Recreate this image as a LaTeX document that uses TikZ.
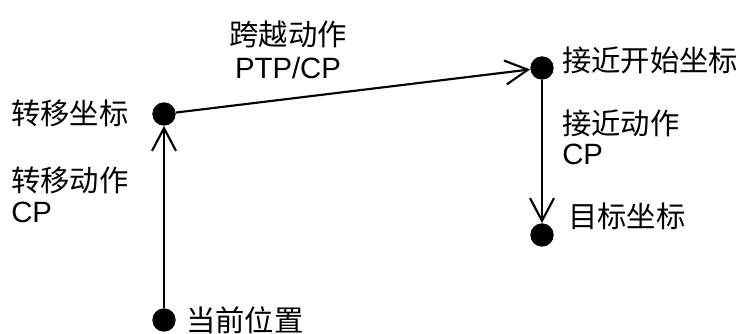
\documentclass[tikz,border=0pt]{standalone}
\usepackage{fontspec}
\setmainfont{Liberation Sans}
\newfontfamily\cjk{Noto Sans CJK SC}
\usetikzlibrary{arrows.meta}
\tikzset{
  dot/.style={circle,fill=black,inner sep=0pt,minimum size=17.5pt},
  lbl/.style={inner sep=0pt,anchor=west,font=\fontsize{22}{26}\selectfont},
  clbl/.style={inner sep=0pt,anchor=west,font=\fontsize{22}{26}\selectfont\cjk},
  clblc/.style={inner sep=0pt,font=\fontsize{22}{26}\selectfont\cjk},
  lblc/.style={inner sep=0pt,font=\fontsize{22}{26}\selectfont},
  conn/.style={line width=1.6pt,-{Straight Barb[length=17pt,width=18pt,line width=1.6pt]}}
}
\begin{document}
\begin{tikzpicture}[x=0.75pt,y=-0.75pt]
\useasboundingbox (0,0) rectangle (741,333);
\node[dot] (cur) at (164,320) {};
\node[dot] (tr) at (164,114) {};
\node[dot] (ap) at (542,68) {};
\node[dot] (tg) at (542,235) {};
\draw[conn] (cur) -- (tr);
\draw[conn] (tr) -- (ap);
\draw[conn] (ap) -- (tg);
\node[clblc] (l1) at (288,34) {跨越动作};
\node[lblc] (l2) at (288,68) {PTP/CP};
\node[clbl] (l3) at (11,113) {转移坐标};
\node[clbl] (l4) at (11,180) {转移动作};
\node[lbl] (l5) at (11,212) {CP};
\node[clbl] (l6) at (186,320) {当前位置};
\node[clbl] (l7) at (562,60) {接近开始坐标};
\node[clbl] (l8) at (562,123) {接近动作};
\node[lbl] (l9) at (562,154) {CP};
\node[clbl] (l10) at (568,216) {目标坐标};
\end{tikzpicture}
\end{document}
